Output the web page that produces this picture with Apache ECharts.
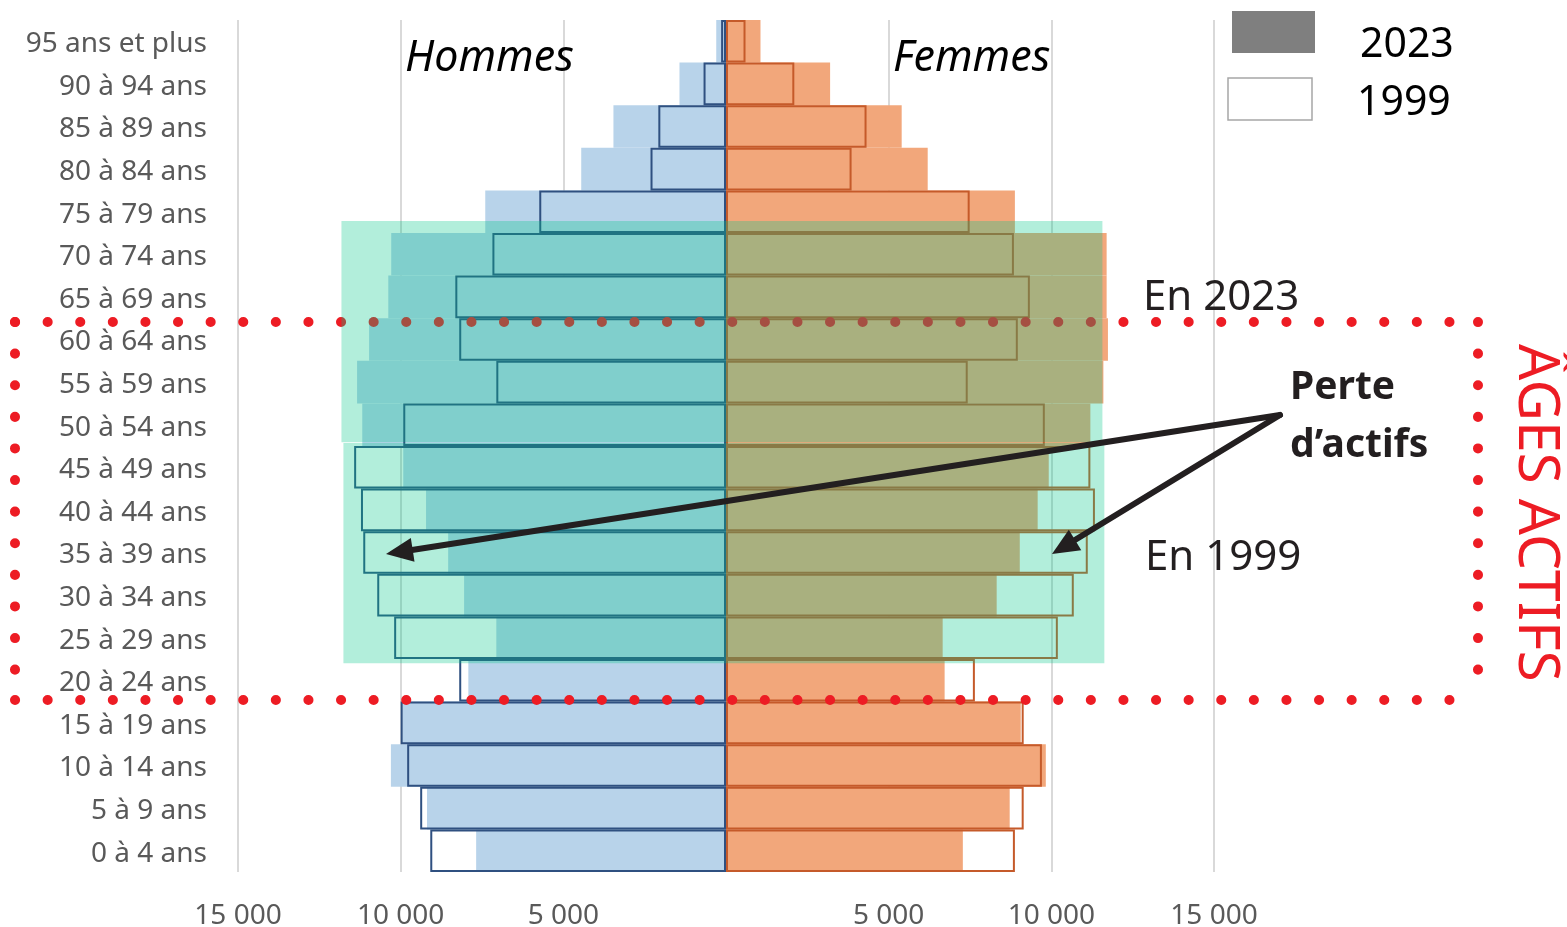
<!DOCTYPE html>
<html lang="fr">
<head>
<meta charset="utf-8">
<title>Pyramide des âges 1999 / 2023</title>
<script src="https://cdn.jsdelivr.net/npm/echarts@6/dist/echarts.min.js"></script>
<style>
  html, body { margin: 0; padding: 0; background: #fff; }
  #chart { width: 1567px; height: 927px; }
</style>
</head>
<body>
<div id="chart"></div>
<script>
// tranches d'âge, du bas vers le haut
const ageGroups = ['0 à 4 ans', '5 à 9 ans', '10 à 14 ans', '15 à 19 ans', '20 à 24 ans',
    '25 à 29 ans', '30 à 34 ans', '35 à 39 ans', '40 à 44 ans', '45 à 49 ans',
    '50 à 54 ans', '55 à 59 ans', '60 à 64 ans', '65 à 69 ans', '70 à 74 ans',
    '75 à 79 ans', '80 à 84 ans', '85 à 89 ans', '90 à 94 ans', '95 ans et plus'];

// effectifs
const hommes2023 = [7680, 9190, 10300, 9950, 7920, 7060, 8050, 8540, 9220, 9920,
    11180, 11340, 10970, 10380, 10290, 7400, 4450, 3460, 1430, 300];
const femmes2023 = [7280, 8720, 9830, 9060, 6720, 6660, 8320, 9030, 9580, 9920,
    11200, 11600, 11740, 11700, 11700, 8880, 6200, 5400, 3200, 1060];
const hommes1999 = [9090, 9400, 9800, 10000, 8200, 10200, 10720, 11150, 11220, 11430,
    9920, 7060, 8200, 8320, 7180, 5740, 2320, 2080, 690, 150];
const femmes1999 = [8880, 9150, 9710, 9150, 7650, 10200, 10690, 11120, 11340, 11200,
    9800, 7430, 8970, 9340, 8850, 7490, 3860, 4320, 2100, 600];

const xTicks = [-15000, 15000, 5000]; // min, max, pas

// zone "âges actifs" surlignée : [x début, x fin, rang bas, rang haut]
const zoneActifs = [
    [-11820, 11570, 10.09, 15.28],
    [-11760, 11630, 4.9, 10.07]
];

const FONT = '"Noto Sans", "DejaVu Sans", sans-serif';

function fmt(v) {
    if (v === 0) return '';
    return String(Math.abs(v)).replace(/\B(?=(\d{3})+(?!\d))/g, ' ');
}

function arrow(x1, y1, x2, y2) {
    const dx = x2 - x1, dy = y2 - y1;
    const len = Math.sqrt(dx * dx + dy * dy);
    const ux = dx / len, uy = dy / len;
    const L = 27, W = 12;
    const bx = x2 - ux * L, by = y2 - uy * L;
    return [
        {
            type: 'line', z: 10, silent: true,
            shape: {x1: x1, y1: y1, x2: bx + ux * 4, y2: by + uy * 4},
            style: {stroke: '#231f20', lineWidth: 6, lineCap: 'round'}
        },
        {
            type: 'polygon', z: 10, silent: true,
            shape: {points: [[x2, y2], [bx - uy * W, by + ux * W], [bx + uy * W, by - ux * W]]},
            style: {fill: '#231f20'}
        }
    ];
}

function dotted(x1, y1, x2, y2, gap) {
    return {
        type: 'line', z: 4, silent: true,
        shape: {x1: x1, y1: y1, x2: x2, y2: y2},
        style: {stroke: '#ed1c24', lineWidth: 10, lineCap: 'round', lineDash: [0.1, gap]}
    };
}

function txt(s, x, y, font, color) {
    return {
        type: 'text', z: 10, silent: true,
        style: {text: s, x: x, y: y, font: font, fill: color || '#231f20', textVerticalAlign: 'middle'}
    };
}

const chart = echarts.init(document.getElementById('chart'));

const barBase = {
    type: 'bar',
    yAxisIndex: 0,
    barGap: '-100%',
    barCategoryGap: '0%',
    silent: true
};

const option = {
    animation: false,
    backgroundColor: '#fff',
    grid: {left: 238, right: 353, top: 20, bottom: 55, outerBoundsMode: 'none'},
    xAxis: {
        type: 'value',
        min: xTicks[0],
        max: xTicks[1],
        interval: xTicks[2],
        axisLine: {show: false},
        axisTick: {show: false},
        splitLine: {lineStyle: {color: '#d9d9d9', width: 2}},
        axisLabel: {
            color: '#595959', fontSize: 28, fontFamily: FONT, margin: 30,
            formatter: fmt
        }
    },
    yAxis: [
        {
            type: 'category',
            data: ageGroups,
            axisLine: {show: false, onZero: false},
            axisTick: {show: false},
            splitLine: {show: false},
            axisLabel: {
                color: '#595959', fontSize: 28, fontFamily: FONT, margin: 31,
                formatter: v => '{t|' + v + '}',
                rich: {t: {color: '#595959', fontSize: 28, fontFamily: FONT, padding: [6, 0, 0, 0]}}
            }
        },
        {
            // axe d'appui (rangs 0 à 20) pour la zone surlignée
            type: 'value', min: 0, max: 20, show: false
        }
    ],
    series: [
        Object.assign({}, barBase, {
            name: 'Hommes 2023', z: 1,
            data: hommes2023.map(v => -v),
            itemStyle: {color: '#b8d3ea'}
        }),
        Object.assign({}, barBase, {
            name: 'Femmes 2023', z: 1,
            data: femmes2023,
            itemStyle: {color: '#f2a77b'}
        }),
        Object.assign({}, barBase, {
            name: 'Hommes 1999', z: 2,
            data: hommes1999.map(v => -v),
            itemStyle: {color: 'rgba(0,0,0,0)', borderColor: '#2f5080', borderWidth: 2}
        }),
        Object.assign({}, barBase, {
            name: 'Femmes 1999', z: 3,
            data: femmes1999,
            itemStyle: {color: 'rgba(0,0,0,0)', borderColor: '#c55a2a', borderWidth: 2}
        }),
        {
            type: 'custom',
            name: 'Âges actifs',
            xAxisIndex: 0,
            yAxisIndex: 1,
            z: 5,
            silent: true,
            data: zoneActifs,
            encode: {x: [0, 1], y: [2, 3]},
            renderItem: function(params, api) {
                const p0 = api.coord([api.value(0), api.value(3)]);
                const p1 = api.coord([api.value(1), api.value(2)]);
                return {
                    type: 'rect',
                    shape: {x: p0[0], y: p0[1], width: p1[0] - p0[0], height: p1[1] - p0[1]},
                    style: {fill: 'rgba(0,200,135,0.3)'}
                };
            }
        }
    ],
    graphic: [
        // cadre pointillé
        dotted(15, 322, 1478, 322, 32.5),
        dotted(15, 700, 1478, 700, 32.5),
        dotted(15, 322, 15, 700, 31.5),
        dotted(1478, 322, 1478, 700, 31.5),
        // légende
        {type: 'rect', z: 10, shape: {x: 1232, y: 11, width: 83, height: 42}, style: {fill: '#7f7f7f'}},
        {type: 'rect', z: 10, shape: {x: 1228, y: 78, width: 84, height: 42},
            style: {fill: '#fff', stroke: '#a6a6a6', lineWidth: 1.5}},
        txt('2023', 1360, 45, '41px ' + FONT, '#000'),
        txt('1999', 1357, 103, '41px ' + FONT, '#000'),
        // titres
        txt('Hommes', 405, 59, 'italic 43px ' + FONT, '#000'),
        txt('Femmes', 893, 59, 'italic 43px ' + FONT, '#000'),
        // annotations
        txt('En 2023', 1143, 298, '42px ' + FONT),
        txt('En 1999', 1145, 558, '42px ' + FONT),
        txt('Perte', 1290, 388, 'bold 39px ' + FONT),
        txt('d’actifs', 1290, 446, 'bold 39px ' + FONT),
        {
            type: 'text', z: 10, silent: true,
            x: 1535, y: 513, rotation: -Math.PI / 2,
            style: {
                text: 'ÂGES ACTIFS', x: 0, y: 0, font: '57px ' + FONT, fill: '#ed1c24',
                textAlign: 'center', textVerticalAlign: 'middle'
            }
        }
    ].concat(arrow(1280, 415, 386, 554), arrow(1280, 415, 1052, 554))
};

chart.setOption(option);

window.addEventListener('resize', function() {
    chart.resize();
});
</script>
</body>
</html>
